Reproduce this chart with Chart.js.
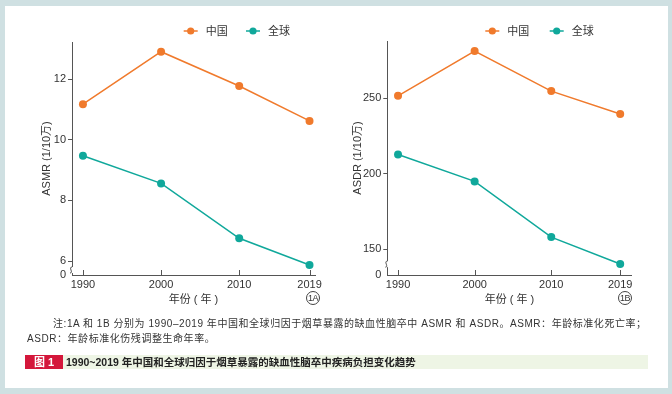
<!DOCTYPE html>
<html>
<head>
<meta charset="utf-8">
<script src="https://cdn.jsdelivr.net/npm/chart.js@4/dist/chart.umd.min.js"></script>
<style>
  html, body { margin: 0; padding: 0; }
  body { width: 672px; height: 394px; background: #cfe0e2; position: relative; overflow: hidden;
         font-family: "Liberation Sans", "Noto Sans CJK SC", sans-serif; color: #333; }
  #panel { position: absolute; left: 5px; top: 6px; width: 663px; height: 382px; background: #fff; }
  .chartBox { position: absolute; top: 0; width: 336px; height: 310px; }
  .tag { position: absolute; width: 12px; height: 12px; border: 1px solid #444; border-radius: 50%;
         font-size: 9px; line-height: 12px; text-align: center; color: #333; letter-spacing: -0.5px; }
  .note { position: absolute; font-size: 10px; white-space: nowrap; color: #333; letter-spacing: 0.55px; }
  #capNum { position: absolute; left: 25px; top: 355px; width: 38px; height: 14px; background: #d4173b;
            color: #fff; font-size: 11px; font-weight: bold; line-height: 14px; text-align: center; }
  #capBar { position: absolute; left: 63px; top: 355px; width: 585px; height: 14px; background: #eef5e5;
            font-size: 10.5px; font-weight: bold; line-height: 14px; color: #222; padding-left: 3px; box-sizing: border-box; }
</style>
</head>
<body>
<div id="panel"></div>
<div class="chartBox" style="left:0"><canvas id="chartA"></canvas></div>
<div class="chartBox" style="left:336px"><canvas id="chartB"></canvas></div>
<div class="tag" style="left:306px; top:291px">1A</div>
<div class="tag" style="left:618px; top:291px">1B</div>
<div class="note" style="left:53px; top:315px">注:1A 和 1B 分别为 1990–2019 年中国和全球归因于烟草暴露的缺血性脑卒中 ASMR 和 ASDR。ASMR：年龄标准化死亡率；</div>
<div class="note" style="left:27px; top:330px">ASDR：年龄标准化伤残调整生命年率。</div>
<div id="capNum">图 1</div>
<div id="capBar">1990~2019 年中国和全球归因于烟草暴露的缺血性脑卒中疾病负担变化趋势</div>
<script>
// ---- data ----
const years = [1990, 2000, 2010, 2019];
const seriesNames = ["中国", "全球"];
const asmrChina = [11.17, 12.90, 11.77, 10.62];
const asmrGlobal = [9.47, 8.56, 6.75, 5.87];
const asdrChina = [251.7, 281.3, 254.8, 239.6];
const asdrGlobal = [212.8, 195.0, 158.1, 140.3];
const asmrTicks = [6, 8, 10, 12];
const asdrTicks = [150, 200, 250];

const ORANGE = "#f07a2c";
const TEAL = "#10a89b";
const AXIS = "#555";
const FONT = "'Liberation Sans', 'Noto Sans CJK SC', sans-serif";

// x tick marks point inward, y axis has a break near the bottom, legend is line + dot
const decorPlugin = {
  id: "decor",
  afterDraw(chart, args, opts) {
    const c = chart.ctx;
    const xs = chart.scales.x, ys = chart.scales.y;
    c.save();
    c.strokeStyle = AXIS;
    c.lineWidth = 1;
    years.forEach(v => {
      const px = Math.round(xs.getPixelForValue(v)) + 0.5;
      c.beginPath();
      c.moveTo(px, xs.top);
      c.lineTo(px, xs.top - 5);
      c.stroke();
    });

    // axis break
    const ax = ys.right;
    const y0 = ys.getPixelForValue(opts.ticks[0]);
    const mid = (y0 + ys.bottom) / 2 + 2;
    c.fillStyle = "#fff";
    c.fillRect(ax - 3, mid - 3, 6, 6);
    c.beginPath();
    c.moveTo(ax, mid - 3);
    c.bezierCurveTo(ax - 4, mid - 3, ax + 2, mid + 3, ax - 2, mid + 3);
    c.stroke();

    // legend
    c.font = "11px " + FONT;
    c.textBaseline = "middle";
    const colors = [ORANGE, TEAL];
    opts.legendX.forEach((lx, i) => {
      c.strokeStyle = colors[i];
      c.fillStyle = colors[i];
      c.lineWidth = 1.5;
      c.beginPath();
      c.moveTo(lx - 7, 31);
      c.lineTo(lx + 7, 31);
      c.stroke();
      c.beginPath();
      c.arc(lx, 31, 3.6, 0, Math.PI * 2);
      c.fill();
      c.fillStyle = "#333";
      c.fillText(seriesNames[i], lx + 15, 31.5);
    });
    c.restore();
  }
};

function makeChart(id, china, global, ticks, cfg) {
  const ctx = document.getElementById(id);
  return new Chart(ctx, {
    type: "line",
    data: {
      datasets: [
        { label: seriesNames[0], data: years.map((y, i) => ({ x: y, y: china[i] })),
          borderColor: ORANGE, backgroundColor: ORANGE, borderWidth: 1.5, pointRadius: 4, pointBorderWidth: 0 },
        { label: seriesNames[1], data: years.map((y, i) => ({ x: y, y: global[i] })),
          borderColor: TEAL, backgroundColor: TEAL, borderWidth: 1.5, pointRadius: 4, pointBorderWidth: 0 }
      ]
    },
    options: {
      responsive: false,
      animation: false,
      layout: { autoPadding: false, padding: { left: 0, top: cfg.top, right: cfg.right, bottom: 0 } },
      scales: {
        x: {
          type: "linear",
          min: cfg.xMin, max: cfg.xMax,
          afterBuildTicks: s => { s.ticks = years.map(v => ({ value: v })); },
          afterFit: s => { s.height = 310 - cfg.bottom; },
          grid: { display: false, drawTicks: false },
          border: { color: AXIS, width: 1 },
          ticks: { padding: 3, color: "#333", font: { size: 11, family: FONT }, callback: v => String(v), maxRotation: 0 },
          title: { display: true, text: "年份 ( 年 )", color: "#333", font: { size: 11, family: FONT }, padding: { top: 0, bottom: 3 } }
        },
        y: {
          min: cfg.yMin, max: cfg.yMax,
          afterBuildTicks: s => { s.ticks = [cfg.yMin, ...ticks].map(v => ({ value: v })); },
          afterFit: s => { s.width = cfg.left; },
          grid: { drawOnChartArea: false, tickLength: 4, tickColor: c => c.index === 0 ? "rgba(0,0,0,0)" : AXIS },
          border: { color: AXIS, width: 1 },
          ticks: { padding: 2, color: "#333", font: { size: 11, family: FONT }, callback: v => v === cfg.yMin ? "0" : String(v) },
          title: { display: true, text: cfg.yTitle, color: "#333", font: { size: 11, family: FONT }, padding: { top: cfg.titlePad, bottom: 0 } }
        }
      },
      plugins: {
        legend: { display: false },
        tooltip: { enabled: false },
        decor: { ticks: ticks, legendX: cfg.legendX }
      }
    },
    plugins: [decorPlugin]
  });
}

["chartA", "chartB"].forEach(id => {
  const el = document.getElementById(id);
  el.width = 336; el.height = 310;
  el.style.width = "336px"; el.style.height = "310px";
});

makeChart("chartA", asmrChina, asmrGlobal, asmrTicks, {
  left: 72, right: 21, top: 42, bottom: 275,
  xMin: 1988.6, xMax: 2019.7, yMin: 5.54, yMax: 13.22,
  yTitle: "ASMR (1/10万)", titlePad: 40, legendX: [190.7, 253]
});
makeChart("chartB", asdrChina, asdrGlobal, asdrTicks, {
  left: 51.3, right: 40.3, top: 41, bottom: 275,
  xMin: 1988.6, xMax: 2020.5, yMin: 133, yMax: 288,
  yTitle: "ASDR (1/10万)", titlePad: 15, legendX: [156.3, 220.7]
});
</script>
</body>
</html>
